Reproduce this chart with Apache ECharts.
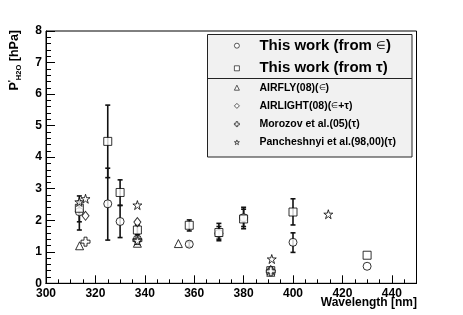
<!DOCTYPE html>
<html><head><meta charset="utf-8">
<script src="https://cdn.jsdelivr.net/npm/echarts@6/dist/echarts.min.js"></script>
<style>html,body{margin:0;padding:0;background:#fff}#c{width:463px;height:315px}</style>
</head><body><div id="c"></div>
<script>
// ---- data ----
const xTickLabels = [300, 320, 340, 360, 380, 400, 420, 440];
const yTickLabels = [0, 1, 2, 3, 4, 5, 6, 7, 8];

const circleWl  = [313.5, 325, 330, 337, 358, 370, 380, 391, 400, 430];
const circleVal = [2.27, 2.52, 1.96, 1.40, 1.24, 1.58, 2.08, 0.40, 1.30, 0.54];
const circleLo  = [1.69, 1.37, 1.45, null, 1.16, 1.35, 1.73, null, 0.98, null];
const circleHi  = [2.60, 3.65, 2.47, null, 1.32, 1.80, 2.35, null, 1.60, null];

const squareWl  = [313.5, 325, 330, 337, 358, 370, 380, 391, 400, 430];
const squareVal = [2.38, 4.50, 2.88, 1.69, 1.84, 1.61, 2.04, 0.40, 2.26, 0.89];
const squareLo  = [1.95, 3.35, 2.47, 1.55, 1.66, 1.40, 1.80, null, 1.85, null];
const squareHi  = [2.77, 5.65, 3.28, 1.85, 2.01, 1.90, 2.41, null, 2.68, null];

const airflyWl  = [313.6, 337, 353.6, 391];
const airflyVal = [1.19, 1.27, 1.26, 0.35];

const airlightWl  = [316, 337, 391];
const airlightVal = [2.14, 1.94, 0.42];

const morozovWl  = [316, 337, 391];
const morozovVal = [1.32, 1.37, 0.38];

const panchWl  = [313.5, 316, 337, 337, 391.4, 414.3];
const panchVal = [2.58, 2.68, 2.48, 1.35, 0.77, 2.19];

const names = ['This work (from \u2208)', 'This work (from \u03c4)', 'AIRFLY(08)(\u2208)',
  'AIRLIGHT(08)(\u2208+\u03c4)', 'Morozov et al.(05)(\u03c4)', 'Pancheshnyi et al.(98,00)(\u03c4)'];

// ---- build ----
const zip = (a, b) => a.map((v, i) => [v, b[i]]);
const errs = (wl, lo, hi) => wl.map((w, i) => [w, lo[i], hi[i]]).filter(d => d[1] != null);

const STAR = 'path://M0,-1 L0.2234,-0.3074 L0.9511,-0.309 L0.3614,0.1174 L0.5878,0.809 L0,0.38 L-0.5878,0.809 L-0.3614,0.1174 L-0.9511,-0.309 L-0.2234,-0.3074 Z';
const CROSS = 'path://M1,0 L2,0 L2,1 L3,1 L3,2 L2,2 L2,3 L1,3 L1,2 L0,2 L0,1 L1,1 Z';
const FONT = '"Liberation Sans", Arial, Helvetica, sans-serif';

function errRender(params, api) {
  const x = api.value(0), lo = api.value(1), hi = api.value(2);
  const p1 = api.coord([x, lo]), p2 = api.coord([x, hi]);
  const w = 2.5, st = { stroke: '#111', lineWidth: 1.6 };
  return { type: 'group', children: [
    { type: 'line', shape: { x1: p1[0], y1: p1[1], x2: p2[0], y2: p2[1] }, style: st },
    { type: 'line', shape: { x1: p1[0] - w, y1: p1[1], x2: p1[0] + w, y2: p1[1] }, style: st },
    { type: 'line', shape: { x1: p2[0] - w, y1: p2[1], x2: p2[0] + w, y2: p2[1] }, style: st }
  ]};
}

const open = { color: '#fff', borderColor: '#000', borderWidth: 1 };
function sc(name, data, symbol, size) {
  return { type: 'scatter', name, data, symbol, symbolSize: size, itemStyle: open, z: 5, silent: true, animation: false };
}

// legend label: shrink the special symbols (∈, τ) like the original
function legendFmt(big) {
  return function (name) {
    const a = big ? 'a' : 'b', e = big ? 'e' : 'f';
    return name.split(/(\u2208)/).map(p => p === '\u2208' ? '{' + e + '|\u2208}' : (p ? '{' + a + '|' + p + '}' : '')).join('');
  };
}
const legRich = {
  a: { fontFamily: FONT, fontWeight: 'bold', fontSize: 15, color: '#000' },
  e: { fontFamily: FONT, fontWeight: 'normal', fontSize: 11, color: '#000' },
  b: { fontFamily: FONT, fontWeight: 'bold', fontSize: 10.5, color: '#000' },
  f: { fontFamily: FONT, fontWeight: 'normal', fontSize: 8, color: '#000' }
};
const legIcon = { color: '#fff', borderColor: '#000', borderWidth: 0.8 };

const axisCommon = {
  type: 'value', min: 300, max: 450, position: 'bottom',
  axisLine: { show: true, lineStyle: { color: '#000', width: 1 } },
  splitLine: { show: false }
};

const option = {
  animation: false,
  grid: { left: 46, right: 46.5, top: 31, bottom: 31.7, show: true, borderColor: '#000', borderWidth: 1, backgroundColor: 'transparent' },
  xAxis: [
    Object.assign({}, axisCommon, {
      interval: 20,
      axisTick: { show: true, inside: true, length: 8, lineStyle: { color: '#000' } },
      axisLabel: { show: true, margin: 4, color: '#000', fontFamily: FONT, fontWeight: 'bold', fontSize: 12,
        formatter: v => xTickLabels.includes(v) ? String(v) : '' }
    }),
    Object.assign({}, axisCommon, {
      interval: 5,
      axisTick: { show: true, inside: true, length: 4, lineStyle: { color: '#000' } },
      axisLabel: { show: false }
    })
  ],
  yAxis: {
    type: 'value', min: 0, max: 8, interval: 1,
    axisLine: { show: true, lineStyle: { color: '#000' } },
    axisTick: { show: true, inside: true, length: 9, lineStyle: { color: '#000' } },
    minorTick: { show: true, splitNumber: 5, length: 5, lineStyle: { color: '#000' } },
    splitLine: { show: false },
    axisLabel: { margin: 4, color: '#000', fontFamily: FONT, fontWeight: 'bold', fontSize: 12,
      formatter: v => yTickLabels.includes(v) ? String(v) : '' }
  },
  legend: [
    { data: names.slice(0, 2), orient: 'vertical', left: 234, top: 37.7, padding: 0,
      itemWidth: 5, itemHeight: 5, itemGap: 6.6, selectedMode: false, itemStyle: legIcon,
      formatter: legendFmt(true),
      textStyle: { fontFamily: FONT, fontWeight: 'bold', fontSize: 15, color: '#000', lineHeight: 16, padding: [0, 0, 0, 15], rich: legRich } },
    { data: names.slice(2), orient: 'vertical', left: 234, top: 81.7, padding: 0,
      itemWidth: 5, itemHeight: 5, itemGap: 6.2, selectedMode: false, itemStyle: legIcon,
      formatter: legendFmt(false),
      textStyle: { fontFamily: FONT, fontWeight: 'bold', fontSize: 10.5, color: '#000', lineHeight: 12, padding: [0, 0, 0, 15], rich: legRich } }
  ],
  graphic: [
    { type: 'rect', shape: { x: 207.5, y: 34.5, width: 204.5, height: 122.5 }, style: { fill: '#f1f1f1', stroke: '#222', lineWidth: 1 }, z: 0 },
    { type: 'line', shape: { x1: 207.5, y1: 78.5, x2: 412, y2: 78.5 }, style: { stroke: '#222', lineWidth: 1 }, z: 1 },
    { type: 'text', x: 15, y: 30, rotation: Math.PI / 2, z: 3,
      style: { text: '{m|P}{p|\'}{s|H2O}{m| [hPa]}', align: 'right', verticalAlign: 'middle',
        rich: {
          m: { fontFamily: FONT, fontWeight: 'bold', fontSize: 12.5, fill: '#000' },
          p: { fontFamily: FONT, fontWeight: 'bold', fontSize: 9, fill: '#000', verticalAlign: 'top', padding: [0, 0, 6, 0] },
          s: { fontFamily: FONT, fontWeight: 'bold', fontSize: 7.5, fill: '#000', verticalAlign: 'bottom', padding: [5, 0, 0, 0] }
        } } },
    { type: 'text', x: 417, y: 303, z: 3,
      style: { text: 'Wavelength [nm]', align: 'right', verticalAlign: 'middle', fontFamily: FONT, fontWeight: 'bold', fontSize: 12, fill: '#000' } }
  ],
  series: [
    { type: 'custom', name: 'errC', renderItem: errRender, data: errs(circleWl, circleLo, circleHi), z: 3, silent: true, encode: { x: 0, y: [1, 2] } },
    { type: 'custom', name: 'errS', renderItem: errRender, data: errs(squareWl, squareLo, squareHi), z: 3, silent: true, encode: { x: 0, y: [1, 2] } },
    sc(names[0], zip(circleWl, circleVal), 'circle', 8),
    sc(names[1], zip(squareWl, squareVal), 'rect', 8),
    sc(names[2], zip(airflyWl, airflyVal), 'triangle', 8),
    sc(names[3], zip(airlightWl, airlightVal), 'diamond', [7, 9]),
    sc(names[4], zip(morozovWl, morozovVal), CROSS, 9),
    sc(names[5], zip(panchWl, panchVal), STAR, 9)
  ]
};

const chart = echarts.init(document.getElementById('c'), null, { renderer: 'canvas' });
chart.setOption(option);
</script></body></html>
